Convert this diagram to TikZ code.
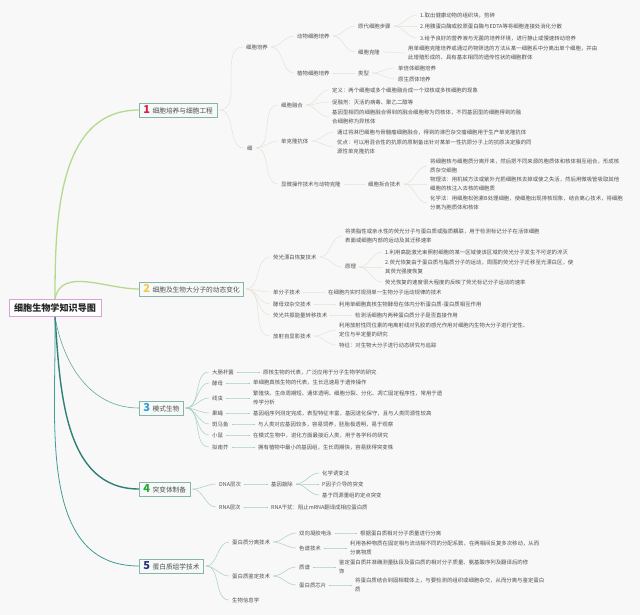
\documentclass[tikz,border=0pt]{standalone}
\usepackage{fontspec}
\setmainfont{Noto Sans CJK SC}
\definecolor{paper}{HTML}{F8F8F8}
\definecolor{ink}{HTML}{505050}
\definecolor{frame}{HTML}{86B5AA}
\definecolor{boxfill}{HTML}{F6F9F8}
\definecolor{rootframe}{HTML}{D9A0DA}
\definecolor{leafgreen}{HTML}{B5D98E}
\definecolor{twigsand}{HTML}{E6E2D6}
\definecolor{twigteal}{HTML}{A3D0C5}
\definecolor{teal3}{HTML}{62AA9C}
\definecolor{teal4}{HTML}{2F7F77}
\definecolor{teal5}{HTML}{3F9D92}
\definecolor{num1}{HTML}{D81E4C}
\definecolor{num2}{HTML}{F2C94C}
\definecolor{num3}{HTML}{2E9BDC}
\definecolor{num4}{HTML}{2AA43C}
\definecolor{num5}{HTML}{28307E}
\newcommand{\badge}[2]{\textcolor{#1}{\fontsize{11}{11}\selectfont\bfseries #2}\hspace{2.5pt}}

\begin{document}
\begin{tikzpicture}[
    x=1pt, y=1pt,
    word/.style={anchor=west, inner sep=1pt, align=left, text=ink, font=\fontsize{5.4}{8.2}\selectfont},
    mainbox/.style={anchor=west, draw=frame, fill=boxfill, line width=0.8pt, inner xsep=4pt, inner ysep=0pt, minimum height=14pt, text=ink, font=\fontsize{6.7}{8}\selectfont},
    rootbox/.style={draw=rootframe, fill=white, line width=0.8pt, inner xsep=5pt, minimum height=17pt, text=black!85, font=\fontsize{9.1}{10}\selectfont\bfseries},
    sand/.style={draw=twigsand, line width=0.5pt, shorten <=2pt, shorten >=2pt},
    sea/.style={draw=twigteal, line width=0.5pt, shorten <=2pt, shorten >=2pt}
]
\useasboundingbox (0,0) rectangle (640,-615);
\fill[paper] (0,0) rectangle (640,-615);

\node[rootbox] (root) at (55,-308) {细胞生物学知识导图};

% main topics
\node[mainbox] (b1) at (139,-110) {\badge{num1}{1}细胞培养与细胞工程};
\node[mainbox] (b2) at (139,-289) {\badge{num2}{2}细胞及生物大分子的动态变化};
\node[mainbox] (b3) at (139,-408) {\badge{num3}{3}模式生物};
\node[mainbox] (b4) at (139,-489) {\badge{num4}{4}突变体制备};
\node[mainbox] (b5) at (139,-566) {\badge{num5}{5}蛋白质组学技术};

\draw[leafgreen, line width=1.3pt] (root.north) to[out=90, in=180] (b1.west);
\draw[leafgreen, line width=1.3pt] (root.north) to[out=80, in=180] (b2.west);
\draw[teal3, line width=0.6pt] (root.south) to[out=-80, in=180] (b3.west);
\draw[teal4, line width=1.4pt] (root.south) to[out=-86, in=180] (b4.west);
\draw[teal5, line width=0.8pt] (root.south) to[out=-89, in=180] (b5.west);

% 1
\node[word] (cc) at (245,-47) {细胞培养};
\node[word] (dw) at (296,-36) {动物细胞培养};
\node[word] (yd) at (357,-26) {原代细胞步骤};
\node[word] (yd1) at (419,-15) {1.取出健康动物的组织块，剪碎};
\node[word] (yd2) at (419,-26) {2.用胰蛋白酶或胶原蛋白酶与EDTA等将细胞连接处消化分散};
\node[word] (yd3) at (419,-38) {3.给予良好的营养液与无菌的培养环境，进行静止或慢速转动培养};
\node[word] (kl) at (357,-52) {细胞克隆};
\node[word] (kl1) at (407,-53) {用单细胞克隆培养或通过药物筛选的方法从某一细胞系中分离出单个细胞，并由\\此增殖形成的、具有基本相同的遗传性状的细胞群体};
\node[word] (zw) at (296,-73) {植物细胞培养};
\node[word] (lx) at (357,-73) {类型};
\node[word] (lx1) at (397,-68) {单倍体细胞培养};
\node[word] (lx2) at (397,-79) {原生质体培养};
\node[word] (gc) at (246,-148) {细};
\node[word] (rh) at (280,-105) {细胞融合};
\node[word] (rh1) at (331,-90) {定义：两个细胞或多个细胞融合成一个双核或多核细胞的现象};
\node[word] (rh2) at (331,-102) {促融剂：灭活的病毒、聚乙二醇等};
\node[word] (rh3) at (331,-117) {基因型相同的细胞融合得到的融合细胞称为同核体，不同基因型的细胞得到的融\\合细胞称为异核体};
\node[word] (dk) at (280,-141) {单克隆抗体};
\node[word] (dk1) at (336,-132) {通过将淋巴细胞与骨髓瘤细胞融合，得到的淋巴杂交瘤细胞用于生产单克隆抗体};
\node[word] (dk2) at (336,-147) {优点：可以用混合性的抗原的原制备出针对某单一性抗原分子上的抗原决定簇的同\\源性单克隆抗体};
\node[word] (xw) at (280,-184) {显微操作技术与动物克隆};
\node[word] (cf) at (367,-184) {细胞拆合技术};
\node[word] (cf1) at (429,-166) {将细胞核与细胞质分离开来，然后把不同来源的胞质体和核体相互组合，形成核\\质杂交细胞};
\node[word] (cf2) at (429,-184) {物理法：用机械方法或紫外光把细胞核去掉或使之失活，然后用微吸管吸取其他\\细胞的核注入去核的细胞质};
\node[word] (cf3) at (429,-203) {化学法：用细胞松弛素B处理细胞，使细胞出现排核现象，结合离心技术，将细胞\\分离为胞质体和核体};

% 2
\node[word] (yg) at (272,-257) {荧光漂白恢复技术};
\node[word] (yg1) at (344,-236) {将类脂性或亲水性的荧光分子与蛋白质或脂质耦联，用于检测标记分子在活体细胞\\表面或细胞内部的运动及其迁移速率};
\node[word] (yl) at (344,-267) {原理};
\node[word] (yl1) at (384,-252) {1.利用高能激光束照射细胞的某一区域使该区域的荧光分子发生不可逆的淬灭};
\node[word] (yl2) at (384,-267) {2.荧光恢复由于蛋白质与脂质分子的运动，周围的荧光分子迁移至光漂白区，使\\其荧光强度恢复};
\node[word] (yl3) at (384,-282) {荧光恢复的速度很大程度的反映了荧光标记分子运动的速率};
\node[word] (dfz) at (272,-292) {单分子技术};
\node[word] (dfz1) at (327,-292) {在细胞内实时观测单一生物分子运动规律的技术};
\node[word] (sz) at (272,-304) {酵母双杂交技术};
\node[word] (sz1) at (338,-304) {利用单细胞真核生物酵母在体内分析蛋白质-蛋白质相互作用};
\node[word] (gz) at (272,-315) {荧光共振能量转移技术};
\node[word] (gz1) at (354,-315) {检测活细胞内两种蛋白质分子是否直接作用};
\node[word] (fs) at (272,-336) {放射自显影技术};
\node[word] (fs1) at (338,-330) {利用放射性同位素的电离射线对乳胶的感光作用对细胞内生物大分子进行定性、\\定位与半定量的研究};
\node[word] (fs2) at (338,-345) {特征：对生物大分子进行动态研究与追踪};

% 3
\node[word] (dc) at (211,-372) {大肠杆菌};
\node[word] (dc1) at (262,-372) {原核生物的代表，广泛应用于分子生物学的研究};
\node[word] (jm) at (211,-383) {酵母};
\node[word] (jm1) at (252,-383) {单细胞真核生物的代表，生长迅速易于遗传操作};
\node[word] (xc) at (211,-398) {线虫};
\node[word] (xc1) at (252,-398) {繁殖快、生命周期短、通体透明、细胞分裂、分化、凋亡固定程序性，常用于遗\\传学分析};
\node[word] (gy) at (211,-413) {果蝇};
\node[word] (gy1) at (252,-413) {基因组序列测定完成，表型特征丰富，基因进化保守，且与人类同源性较高};
\node[word] (bm) at (211,-424) {斑马鱼};
\node[word] (bm1) at (257,-424) {与人类对应基因较多，容易饲养，胚胎极透明，易于观察};
\node[word] (xs) at (211,-435) {小鼠};
\node[word] (xs1) at (252,-435) {在模式生物中，进化方面最接近人类，用于各学科的研究};
\node[word] (nn) at (211,-447) {拟南芥};
\node[word] (nn1) at (257,-447) {拥有植物中最小的基因组，生长周期快，容易获得突变株};

% 4
\node[word] (dna) at (218,-484) {DNA层次};
\node[word] (qc) at (270,-484) {基因敲除};
\node[word] (qc1) at (321,-473) {化学诱变法};
\node[word] (qc2) at (321,-484) {P因子介导的突变};
\node[word] (qc3) at (321,-495) {基于同源重组的定点突变};
\node[word] (rna) at (218,-507) {RNA层次};
\node[word] (rna1) at (270,-507) {RNA干扰：阻止mRNA翻译成相应蛋白质};

% 5
\node[word] (fl) at (231,-542) {蛋白质分离技术};
\node[word] (sx) at (298,-533) {双向凝胶电泳};
\node[word] (sx1) at (359,-533) {根据蛋白质相对分子质量进行分离};
\node[word] (sp) at (298,-548) {色谱技术};
\node[word] (sp1) at (349,-548) {利用各种物质在固定相与流动相不同的分配系数，在两相间反复多次移动，从而\\分离物质};
\node[word] (jd) at (231,-576) {蛋白质鉴定技术};
\node[word] (zp) at (298,-567) {质谱};
\node[word] (zp1) at (338,-567) {鉴定蛋白质并准确测量肽段及蛋白质的相对分子质量、氨基酸序列及翻译后的修\\饰};
\node[word] (xp) at (298,-585) {蛋白质芯片};
\node[word] (xp1) at (354,-585) {将蛋白质结合到固相载体上，与要检测的组织或细胞杂交，从而分离与鉴定蛋白\\质};
\node[word] (sw) at (231,-600) {生物信息学};

% links
\foreach \s/\t in {b1/cc, b1/gc, cc/dw, cc/zw, dw/yd, dw/kl, yd/yd1, yd/yd2, yd/yd3, kl/kl1,
    zw/lx, lx/lx1, lx/lx2, gc/rh, gc/dk, gc/xw, rh/rh1, rh/rh2, rh/rh3, dk/dk1, dk/dk2,
    xw/cf, cf/cf1, cf/cf2, cf/cf3, b2/yg, b2/dfz, b2/sz, b2/gz, b2/fs, yg/yg1, yg/yl,
    yl/yl1, yl/yl2, yl/yl3, dfz/dfz1, sz/sz1, gz/gz1, fs/fs1, fs/fs2}
  \draw[sand] (\s.east) to[out=0, in=180] (\t.west);
\foreach \s/\t in {b3/dc, b3/jm, b3/xc, b3/gy, b3/bm, b3/xs, b3/nn, dc/dc1, jm/jm1, xc/xc1,
    gy/gy1, bm/bm1, xs/xs1, nn/nn1, b4/dna, b4/rna, dna/qc, qc/qc1, qc/qc2, qc/qc3, rna/rna1,
    b5/fl, b5/jd, b5/sw, fl/sx, fl/sp, sx/sx1, sp/sp1, jd/zp, jd/xp, zp/zp1, xp/xp1}
  \draw[sea] (\s.east) to[out=0, in=180] (\t.west);
\end{tikzpicture}
\end{document}
